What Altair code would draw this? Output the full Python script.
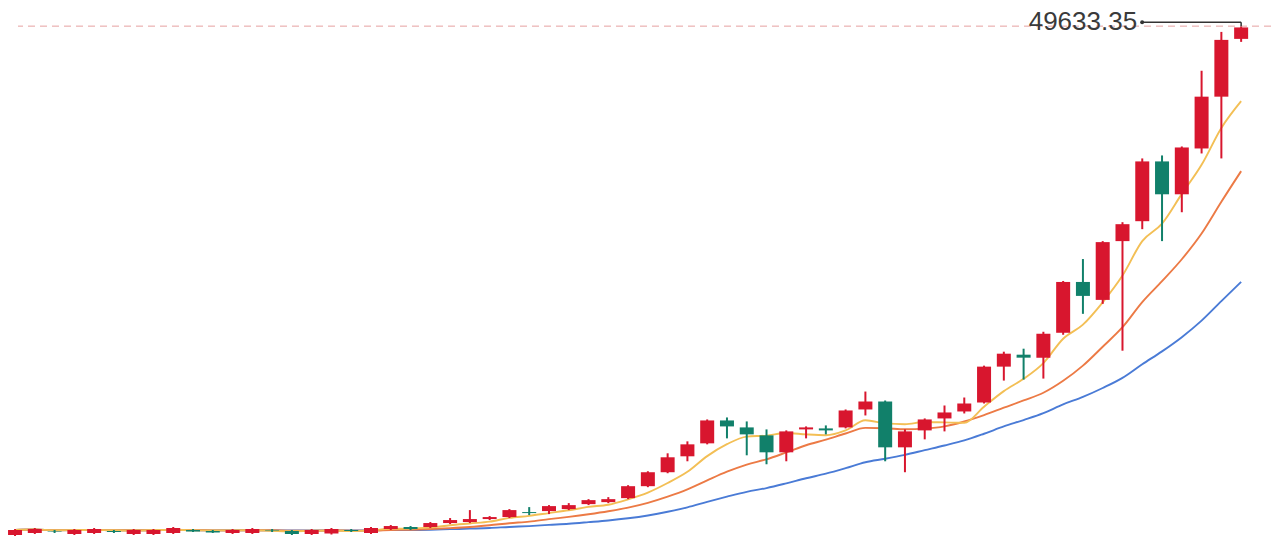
import altair as alt
import pandas as pd

# ---- data ----
idx = list(range(63))
opens = [765, 957, 1148, 861, 957, 1148, 861, 861, 957, 1244,
         1148, 957, 957, 1196, 1148, 861, 909, 1244, 957, 1339,
         1531, 1531, 1913, 2009, 2296, 2487, 2966, 3061, 3253, 3731,
         3922, 4305, 5453, 6793, 8323, 9567, 11767, 11098, 10332, 8706,
         10906, 11002, 11098, 12820, 13585, 9184, 10811, 11959, 12628, 13489,
         16934, 18082, 17795, 20186, 25066, 23343, 28988, 30901, 36642, 33485,
         37885, 42860, 48409]
highs = [1339, 1435, 1244, 1339, 1435, 1244, 1339, 1339, 1531, 1339,
         1244, 1339, 1435, 1339, 1244, 1339, 1435, 1339, 1531, 1722,
         1626, 2009, 2392, 3157, 2583, 3253, 3444, 3635, 3827, 4209,
         4401, 5549, 6888, 8610, 9758, 11863, 12054, 11672, 10906, 10811,
         11193, 11289, 12820, 14542, 13681, 10906, 11959, 13202, 13968, 17029,
         18369, 18656, 20282, 25161, 27266, 28988, 30806, 36929, 37216, 38077,
         45348, 49079, 49633.35]
lows = [670, 861, 957, 765, 861, 957, 765, 765, 861, 1052,
        957, 861, 861, 1052, 765, 765, 813, 1052, 861, 1244,
        1244, 1435, 1818, 1913, 2200, 2392, 2679, 2774, 3157, 3635,
        3827, 4209, 5358, 6697, 7845, 9471, 10045, 8419, 7558, 7845,
        10045, 10428, 11002, 12246, 7845, 6793, 9950, 10715, 12437, 13394,
        15594, 15690, 15786, 19995, 22004, 22961, 18464, 30136, 28988, 31762,
        37407, 36929, 48122]
closes = [1244, 1339, 1100, 1244, 1339, 1052, 1244, 1244, 1435, 1100,
          1005, 1244, 1339, 1148, 861, 1244, 1339, 1148, 1435, 1626,
          1339, 1913, 2200, 2296, 2487, 3157, 2870, 3540, 3635, 4114,
          4209, 5453, 6793, 8228, 9471, 11767, 11193, 10428, 8706, 10715,
          11098, 10811, 12724, 13585, 9184, 10715, 11863, 12533, 13394, 16934,
          18177, 17795, 20091, 25066, 23726, 28892, 30614, 36642, 33485, 37981,
          42860, 48313, 49509]

ma_periods = [20, 10, 5]
ma_colors = ["#4a7bd6", "#ec7a45", "#f3bf55"]

df = pd.DataFrame({"i": idx, "open": opens, "high": highs, "low": lows, "close": closes})
peak_row = df.loc[df["high"].idxmax()]
peak = pd.DataFrame({"i": [int(peak_row["i"])], "high": [float(peak_row["high"])],
                     "label": [f"{peak_row['high']:.2f}"]})

RED = "#d8162e"
GREEN = "#11806a"

xs = alt.Scale(domain=[0.15, 63.51], nice=False, zero=False, padding=0)
ys = alt.Scale(domain=[765, 51375], nice=False, zero=False, padding=0)
X = alt.X("i:Q", scale=xs, axis=None)

base = alt.Chart(df)

layers = []
for n, col in zip(ma_periods, ma_colors):
    layers.append(
        base.transform_window(ma="mean(close)", frame=[-(n - 1), 0], sort=[alt.SortField("i")])
        .mark_line(color=col, strokeWidth=1.9, interpolate="monotone")
        .encode(x=X, y=alt.Y("ma:Q", scale=ys, axis=None))
    )

candle_color = alt.condition("datum.close >= datum.open", alt.value(RED), alt.value(GREEN))

wicks = base.mark_rule(strokeWidth=2).encode(
    x=X, y=alt.Y("low:Q", scale=ys, axis=None), y2="high:Q", color=candle_color
)
bodies = base.mark_bar(size=14).encode(
    x=X, y=alt.Y("open:Q", scale=ys, axis=None), y2="close:Q", color=candle_color
)

pk = alt.Chart(peak)
dashed = pk.mark_rule(color="#e6a0a0", strokeWidth=1, strokeDash=[7, 5]).encode(
    y=alt.Y("high:Q", scale=ys, axis=None)
)
conn_h = pk.mark_rule(color="#333333", strokeWidth=1.5, xOffset=-99, yOffset=-4, y2Offset=-4).encode(
    x=X, x2="i:Q", y=alt.Y("high:Q", scale=ys, axis=None), y2="high:Q"
)
conn_v = pk.mark_rule(color="#333333", strokeWidth=1.5, yOffset=-4, y2Offset=0).encode(
    x=X, y=alt.Y("high:Q", scale=ys, axis=None), y2="high:Q"
)
dot = pk.mark_point(filled=True, color="#333333", size=16, opacity=1, xOffset=-99, yOffset=-4).encode(
    x=X, y=alt.Y("high:Q", scale=ys, axis=None)
)
label = pk.mark_text(align="right", baseline="middle", dx=-104, dy=-4, fontSize=26,
                     font="Liberation Sans", color="#3a3a3a").encode(
    x=X, y=alt.Y("high:Q", scale=ys, axis=None), text="label:N"
)

chart = alt.layer(*layers, wicks, bodies, dashed, conn_h, conn_v, dot, label).properties(
    width=1264, height=529, padding=0, background="white",
    autosize=alt.AutoSizeParams(type="fit", contains="padding"),
).configure_view(stroke=None)

chart.save("out.html", embed_options={"renderer": "svg", "actions": False})
